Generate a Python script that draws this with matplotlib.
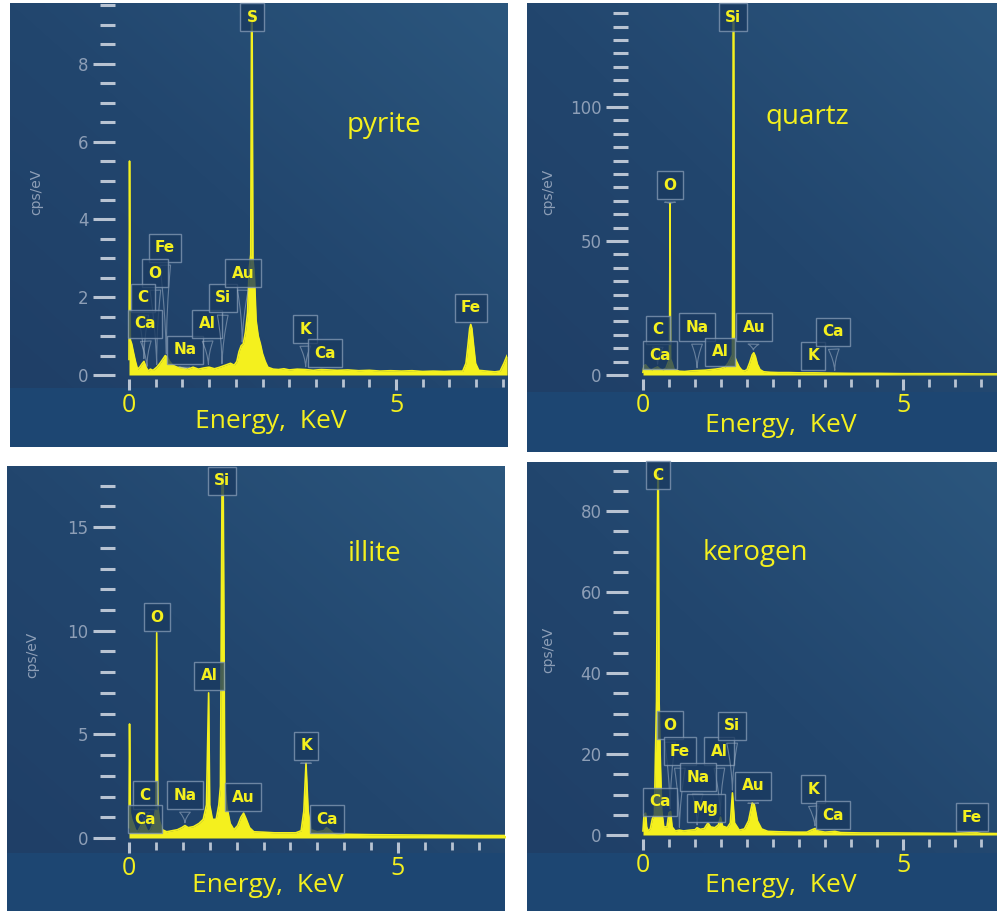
import numpy as np
import matplotlib.pyplot as plt
from matplotlib.colors import LinearSegmentedColormap

# EDS spectra of four minerals: energy (keV) and counts (cps/eV)
pyrite_kev = [0.00, 0.01, 0.025, 0.05, 0.08, 0.12, 0.16, 0.20, 0.25, 0.28, 0.32, 0.36, 0.40,
              0.45, 0.52, 0.58, 0.63, 0.68, 0.72, 0.76, 0.82, 0.90, 1.00, 1.10, 1.20, 1.30,
              1.40, 1.50, 1.60, 1.70, 1.80, 1.90, 1.97, 2.02, 2.06, 2.10, 2.14, 2.18, 2.22,
              2.25, 2.28, 2.295, 2.305, 2.32, 2.35, 2.38, 2.42, 2.46, 2.50, 2.55, 2.60, 2.70,
              2.80, 2.90, 3.00, 3.15, 3.30, 3.45, 3.60, 3.75, 3.90, 4.10, 4.30, 4.50, 4.70,
              4.90, 5.10, 5.30, 5.50, 5.70, 5.90, 6.10, 6.25, 6.31, 6.35, 6.38, 6.40, 6.42,
              6.45, 6.49, 6.55, 6.70, 6.85, 6.95, 7.02, 7.08]
pyrite_cps = [0.4, 5.5, 0.9, 0.8, 0.6, 0.35, 0.15, 0.2, 0.3, 0.35, 0.2, 0.1, 0.15,
              0.12, 0.2, 0.3, 0.4, 0.5, 0.45, 0.35, 0.25, 0.2, 0.18, 0.15, 0.2, 0.15,
              0.18, 0.2, 0.16, 0.2, 0.25, 0.3, 0.25, 0.35, 0.6, 0.75, 0.8, 1.1, 1.6,
              2.7, 3.1, 9.3, 9.3, 3.0, 2.5, 1.4, 1.0, 0.8, 0.55, 0.35, 0.2, 0.15,
              0.14, 0.16, 0.13, 0.15, 0.14, 0.12, 0.14, 0.13, 0.12, 0.13, 0.11, 0.12, 0.1,
              0.11, 0.1, 0.11, 0.09, 0.1, 0.09, 0.1, 0.1, 0.3, 0.8, 1.2, 1.3, 1.2,
              0.8, 0.3, 0.12, 0.1, 0.08, 0.1, 0.3, 0.5]

quartz_kev = [0.00, 0.02, 0.05, 0.08, 0.12, 0.16, 0.22, 0.28, 0.33, 0.38, 0.44, 0.48, 0.51,
              0.52, 0.53, 0.56, 0.60, 0.70, 0.80, 0.90, 1.00, 1.10, 1.20, 1.30, 1.40, 1.50,
              1.58, 1.64, 1.68, 1.72, 1.735, 1.745, 1.76, 1.80, 1.85, 1.90, 1.95, 2.00, 2.05,
              2.10, 2.13, 2.16, 2.20, 2.25, 2.32, 2.45, 2.60, 2.80, 3.00, 3.30, 3.60, 4.00,
              4.50, 5.00, 5.50, 6.00, 6.50, 6.82]
quartz_cps = [1.0, 3.5, 3.8, 3.0, 2.2, 1.8, 2.5, 3.0, 2.2, 1.8, 2.5, 4.5, 6.0,
              64.0, 6.0, 4.5, 2.0, 1.4, 1.3, 1.5, 1.6, 1.7, 1.8, 2.0, 2.2, 2.5,
              3.0, 4.5, 6.0, 7.5, 132.0, 132.0, 7.0, 5.0, 3.0, 1.8, 1.5, 2.0, 4.5,
              7.5, 8.3, 7.0, 4.0, 2.0, 1.2, 1.0, 0.9, 0.9, 0.8, 0.8, 0.7, 0.6,
              0.6, 0.5, 0.5, 0.5, 0.4, 0.4]

illite_kev = [0.00, 0.01, 0.025, 0.05, 0.08, 0.12, 0.16, 0.20, 0.26, 0.30, 0.35, 0.40, 0.46,
              0.50, 0.515, 0.535, 0.57, 0.62, 0.70, 0.80, 0.90, 0.98, 1.04, 1.10, 1.20, 1.30,
              1.38, 1.44, 1.48, 1.50, 1.55, 1.62, 1.67, 1.70, 1.73, 1.75, 1.78, 1.82, 1.88,
              1.95, 2.02, 2.08, 2.13, 2.18, 2.24, 2.32, 2.50, 2.70, 2.90, 3.10, 3.20, 3.25,
              3.29, 3.33, 3.38, 3.50, 3.62, 3.67, 3.72, 3.80, 4.00, 4.50, 5.00, 5.50, 6.00,
              6.50, 7.00]
illite_cps = [0.5, 5.5, 1.2, 0.9, 0.7, 0.4, 0.3, 0.5, 0.8, 0.6, 0.3, 0.4, 0.8,
              1.5, 9.9, 1.5, 0.8, 0.4, 0.3, 0.35, 0.4, 0.5, 0.6, 0.5, 0.55, 0.7,
              0.9, 1.6, 7.0, 1.6, 0.9, 0.9, 1.6, 2.5, 17.5, 17.5, 2.5, 1.5, 0.7,
              0.4, 0.6, 1.0, 1.2, 0.9, 0.5, 0.3, 0.28, 0.25, 0.25, 0.25, 0.35, 1.3,
              3.6, 1.3, 0.4, 0.3, 0.35, 0.5, 0.4, 0.22, 0.18, 0.16, 0.15, 0.14, 0.13,
              0.12, 0.12]

kerogen_kev = [0.00, 0.02, 0.05, 0.07, 0.10, 0.14, 0.18, 0.22, 0.24, 0.26, 0.285, 0.295, 0.31,
               0.33, 0.36, 0.40, 0.46, 0.50, 0.53, 0.56, 0.62, 0.70, 0.78, 0.90, 1.00, 1.04,
               1.10, 1.18, 1.25, 1.30, 1.38, 1.45, 1.49, 1.53, 1.62, 1.68, 1.72, 1.76, 1.85,
               1.95, 2.03, 2.10, 2.14, 2.20, 2.28, 2.40, 2.60, 2.90, 3.15, 3.25, 3.31, 3.37,
               3.50, 3.69, 3.80, 4.20, 4.80, 5.40, 6.00, 6.40, 6.50, 6.82]
kerogen_cps = [1.0, 5.0, 5.4, 2.0, 1.0, 1.5, 4.0, 5.0, 20.0, 33.0, 89.0, 89.0, 33.0,
               20.0, 6.0, 2.0, 2.0, 5.5, 5.8, 2.0, 1.0, 1.2, 1.0, 1.2, 1.3, 1.8,
               1.4, 1.6, 3.0, 2.0, 1.8, 2.5, 4.4, 2.2, 1.8, 3.0, 10.4, 3.0, 1.2,
               1.5, 3.5, 7.9, 7.5, 3.5, 1.5, 0.9, 0.8, 0.7, 0.7, 1.3, 1.6, 1.0,
               0.7, 0.9, 0.6, 0.5, 0.5, 0.45, 0.4, 0.6, 0.4, 0.35]

# element tags and their line energies (keV)
pyrite_tags = ['S', 'Fe', 'O', 'C', 'Ca', 'Na', 'Al', 'Si', 'Au', 'K', 'Ca', 'Fe']
pyrite_tag_kev = [2.30, 0.70, 0.52, 0.28, 0.34, 1.04, 1.49, 1.74, 2.12, 3.31, 3.69, 6.40]
quartz_tags = ['Si', 'O', 'C', 'Ca', 'Na', 'Al', 'Au', 'K', 'Ca']
quartz_tag_kev = [1.74, 0.52, 0.28, 0.34, 1.04, 1.49, 2.12, 3.31, 3.69]
illite_tags = ['Si', 'O', 'Al', 'K', 'C', 'Ca', 'Na', 'Au', 'Ca']
illite_tag_kev = [1.74, 0.515, 1.48, 3.29, 0.28, 0.34, 1.04, 2.12, 3.69]
kerogen_tags = ['C', 'O', 'Fe', 'Al', 'Si', 'Na', 'Ca', 'Mg', 'Au', 'K', 'Ca', 'Fe']
kerogen_tag_kev = [0.29, 0.52, 0.70, 1.49, 1.72, 1.04, 0.34, 1.25, 2.12, 3.31, 3.69, 6.40]

# where each tag box sits, in figure pixels
pyrite_tag_px = [(252, 17), (165, 248), (155, 273), (143, 298), (145, 324), (185, 350),
                 (207, 324), (223, 298), (243, 273), (305, 329), (325, 353), (471, 308)]
quartz_tag_px = [(733, 17), (670, 185), (658, 330), (660, 355), (697, 327), (720, 352),
                 (754, 327), (813, 356), (833, 332)]
illite_tag_px = [(222, 481), (157, 617), (209, 676), (306, 746), (145, 795), (145, 819),
                 (185, 795), (243, 797), (327, 819)]
kerogen_tag_px = [(658, 475), (670, 725), (680, 751), (719, 751), (732, 726), (698, 777),
                  (660, 802), (706, 808), (753, 786), (813, 789), (833, 815), (972, 817)]

W, H = 997, 911
YELLOW = '#f4f01e'
TICK = '#b8c3d2'
TICKLAB = '#8e9fb7'
BAND = '#1d4672'
bg_cmap = LinearSegmentedColormap.from_list('bg', ['#1f3e66', '#22466e', '#2b567d'])

n = 64
u = np.linspace(0, 1, n)
grad = (u[None, :] + u[::-1, None]) / 2

panels = [
    dict(box=(10, 3, 507, 447), band=388, map=(129, 53.4, 375, 38.9), yaxis=115,
         kev=pyrite_kev, cps=pyrite_cps, major=2, minor=0.5,
         tags=pyrite_tags, tag_kev=pyrite_tag_kev, tag_px=pyrite_tag_px,
         name='pyrite', name_px=(384, 125), xlab_px=(271, 421), ylab_px=(36, 192)),
    dict(box=(527, 3, 997, 452), band=392, map=(643, 52.0, 375, 2.68), yaxis=628,
         kev=quartz_kev, cps=quartz_cps, major=50, minor=5,
         tags=quartz_tags, tag_kev=quartz_tag_kev, tag_px=quartz_tag_px,
         name='quartz', name_px=(807, 117), xlab_px=(781, 425), ylab_px=(548, 192)),
    dict(box=(7, 466, 505, 911), band=853, map=(129, 53.8, 838, 20.73), yaxis=115,
         kev=illite_kev, cps=illite_cps, major=5, minor=1,
         tags=illite_tags, tag_kev=illite_tag_kev, tag_px=illite_tag_px,
         name='illite', name_px=(375, 554), xlab_px=(268, 886), ylab_px=(32, 655)),
    dict(box=(527, 462, 997, 911), band=853, map=(643, 52.0, 835, 4.05), yaxis=628,
         kev=kerogen_kev, cps=kerogen_cps, major=20, minor=5,
         tags=kerogen_tags, tag_kev=kerogen_tag_kev, tag_px=kerogen_tag_px,
         name='kerogen', name_px=(755, 553), xlab_px=(781, 885), ylab_px=(548, 650)),
]

fig = plt.figure(figsize=(W / 100, H / 100), dpi=100)
fig.patch.set_facecolor('white')


def fxy(px, py):
    return px / W, 1 - py / H


def draw_panel(p):
    l, t, r, b = p['box']
    x0, kpx, y0, upx = p['map']
    ax = fig.add_axes([l / W, 1 - b / H, (r - l) / W, (b - t) / H])
    xlim = ((l - x0) / kpx, (r - x0) / kpx)
    ylim = ((y0 - b) / upx, (y0 - t) / upx)

    ax.imshow(grad, cmap=bg_cmap, extent=(*xlim, *ylim), aspect='auto',
              interpolation='bicubic', zorder=0)
    ax.axhspan(ylim[0], (y0 - p['band']) / upx, color=BAND, lw=0, zorder=0.5)
    ax.set_xlim(xlim)
    ax.set_ylim(ylim)

    kev = np.array(p['kev'])
    cps = np.array(p['cps'])
    ax.fill_between(kev, cps, 0, color=YELLOW, lw=0, zorder=3)
    ax.plot(kev, cps, color=YELLOW, lw=1.2, zorder=3)

    # axes: dashes only, no spine lines
    for s in ('top', 'right'):
        ax.spines[s].set_visible(False)
    ax.spines['left'].set_position(('data', (p['yaxis'] - x0) / kpx))
    ax.spines['bottom'].set_position(('data', -4 / upx))
    ax.spines['left'].set_color('none')
    ax.spines['bottom'].set_color('none')

    yt = np.arange(0, ylim[1], p['major'])
    ax.set_yticks(yt)
    ax.set_yticklabels([f'{v:g}' for v in yt])
    ax.set_yticks(np.arange(0, ylim[1], p['minor']), minor=True)
    ax.set_xticks([0, 5])
    ax.set_xticklabels(['0', '5'], fontfamily='Open Sans')
    ax.set_xticks(np.arange(0, xlim[1] + 0.01, 0.5), minor=True)

    ax.tick_params(axis='y', which='major', direction='out', length=16, width=2.2,
                   color=TICK, labelcolor=TICKLAB, labelsize=12, pad=3)
    ax.tick_params(axis='y', which='minor', direction='out', length=11, width=2.2,
                   color=TICK)
    ax.tick_params(axis='x', which='major', direction='out', length=8, width=2.2,
                   color=TICK, labelcolor=YELLOW, labelsize=18, pad=2)
    ax.tick_params(axis='x', which='minor', direction='out', length=5.5, width=2,
                   color=TICK)

    # element tags with wedge pointers down to the lines
    for name, e, (bx_px, by_px) in zip(p['tags'], p['tag_kev'], p['tag_px']):
        bx = (bx_px - x0) / kpx
        by = (y0 - by_px) / upx
        near = np.abs(kev - e) <= 0.015
        tip = cps[near].max() if near.any() else np.interp(e, kev, cps)
        arrow = None
        if tip < by - 17 / upx:
            arrow = dict(arrowstyle='wedge,tail_width=0.7,shrink_factor=0.3',
                         fc='none', ec='#a3b4c8', lw=0.8, alpha=0.55)
        ax.annotate(name, xy=(e, tip), xytext=(bx, by), ha='center', va='center',
                    color=YELLOW, fontsize=11, fontweight='bold',
                    bbox=dict(boxstyle='square,pad=0.42', fc='#1a3a60', ec='#8399b4',
                              lw=1, alpha=0.78),
                    arrowprops=arrow, zorder=5)

    fig.text(*fxy(*p['name_px']), p['name'], color=YELLOW, fontsize=20,
             fontfamily='Open Sans', ha='center', va='center')
    fig.text(*fxy(*p['xlab_px']), 'Energy,  KeV', color=YELLOW, fontsize=19,
             fontfamily='Open Sans', ha='center', va='center')
    fig.text(*fxy(*p['ylab_px']), 'cps/eV', color=TICKLAB, fontsize=10,
             rotation=90, ha='center', va='center')
    return ax


for p in panels:
    draw_panel(p)

fig.savefig('out.png', dpi=100, facecolor='white')
